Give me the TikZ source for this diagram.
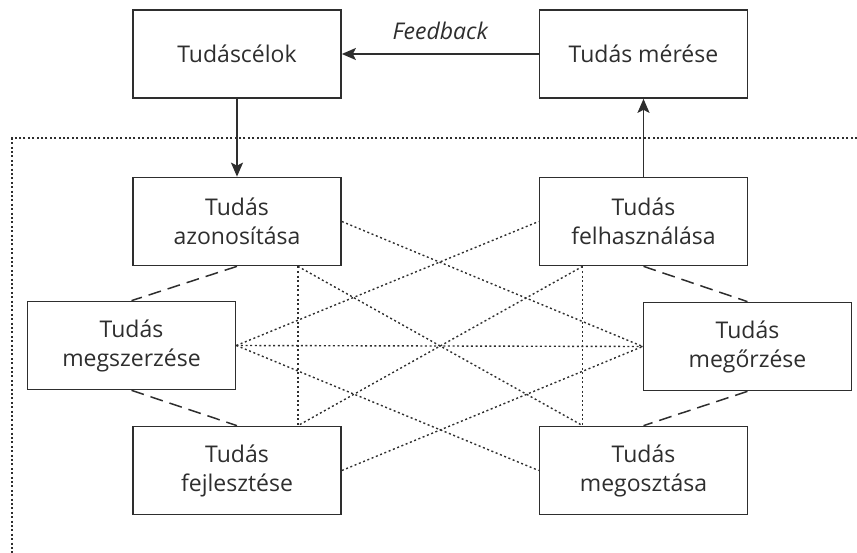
\documentclass[tikz,border=0pt]{standalone}
\usepackage{fontspec}
\setmainfont{Open Sans}
\usetikzlibrary{arrows.meta}
\definecolor{ink}{HTML}{2E2E2E}
\begin{document}
\begin{tikzpicture}[x=1pt,y=-1pt,
  box/.style={draw=ink, line width=1.7pt, minimum width=208pt, minimum height=88pt,
    inner sep=0pt, align=center, text=ink, font=\fontsize{23}{29}\selectfont},
  flow/.style={draw=ink, line width=1.5pt, -{Stealth[length=14pt,width=12pt,inset=3pt]}},
  link/.style={draw=ink, line width=1.5pt, dash pattern=on 13pt off 7pt},
  tie/.style={draw=ink, line width=1.4pt, dash pattern=on 2pt off 2.6pt},
  frame/.style={draw=ink, line width=1.6pt, dash pattern=on 2pt off 2.4pt},
]
\useasboundingbox (0,0) rectangle (857,553);

% boundary of the knowledge-management cycle
\draw[frame] (857,138) -- (12,138) -- (12,553);

% outer loop
\node[box] (celok) at (237,54) {Tudáscélok};
\node[box] (meres) at (643.5,54) {Tudás mérése};

% inner cycle
\node[box] (azon) at (237,221.5) {Tudás\\azonosítása};
\node[box] (felh) at (643.5,221.5) {Tudás\\felhasználása};
\node[box] (szerz) at (131.5,345.5) {Tudás\\megszerzése};
\node[box] (orz) at (747.5,346.5) {Tudás\\megőrzése};
\node[box] (fejl) at (237,470.5) {Tudás\\fejlesztése};
\node[box] (oszt) at (643.5,470.5) {Tudás\\megosztása};

% arrows
\draw[flow] (meres.west) -- node[midway, yshift=23pt, text=ink,
  font=\fontsize{23}{29}\selectfont\itshape] (fb) {Feedback} (celok.east);
\draw[flow] (celok.south) -- (azon.north);
\draw[flow] (felh.north) -- (meres.south);

% neighbouring steps
\draw[link] (azon.south) -- (szerz.north);
\draw[link] (szerz.south) -- (fejl.north);
\draw[link] (felh.south) -- (orz.north);
\draw[link] (orz.south) -- (oszt.north);

% cross relations
\coordinate (azonR) at ([xshift=-44pt]azon.south east);
\coordinate (felhL) at ([xshift=44pt]felh.south west);
\coordinate (fejlR) at ([xshift=-44pt]fejl.north east);
\coordinate (osztL) at ([xshift=44pt]oszt.north west);
\draw[tie] (szerz.east) -- (felh.west);
\draw[tie] (szerz.east) -- (orz.west);
\draw[tie] (szerz.east) -- (oszt.west);
\draw[tie] (azon.east) -- (orz.west);
\draw[tie] (fejl.east) -- (orz.west);
\draw[tie] (azonR) -- (fejlR);
\draw[tie] (azonR) -- (osztL);
\draw[tie] (felhL) -- (fejlR);
\draw[tie] (felhL) -- (osztL);
\end{tikzpicture}
\end{document}
